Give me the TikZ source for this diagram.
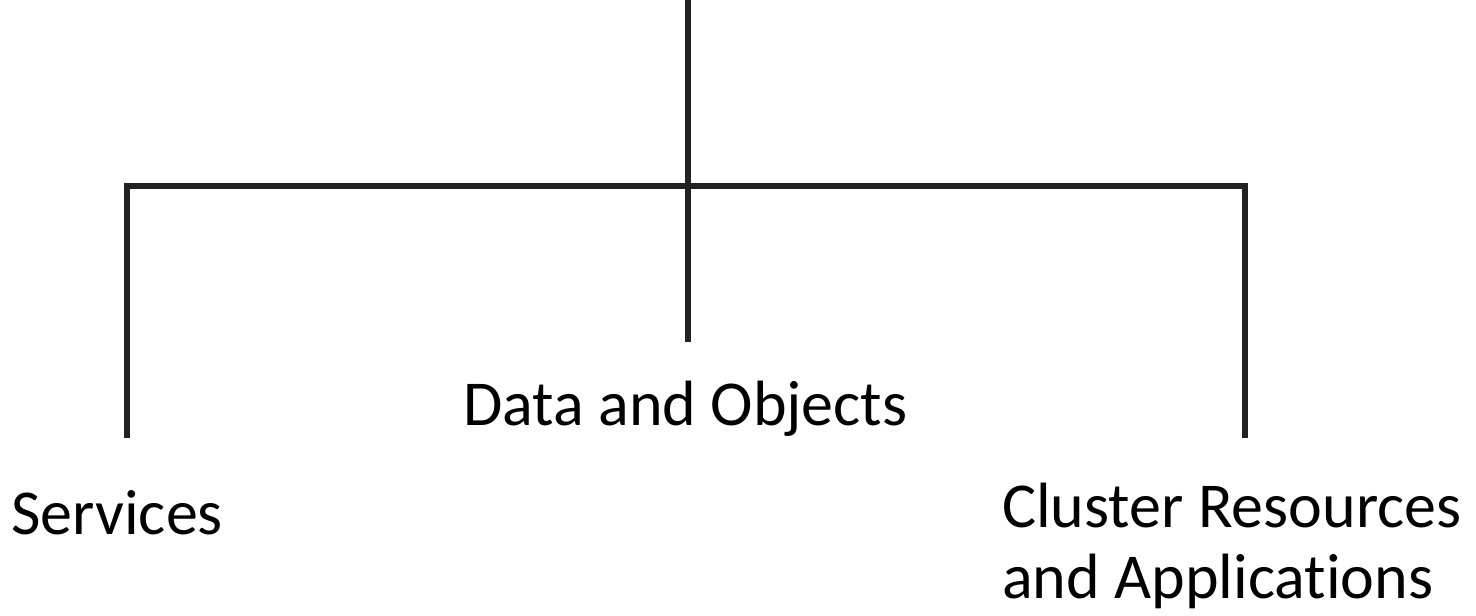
\documentclass[tikz,border=0pt]{standalone}
\usepackage{fontspec}
\setmainfont{Carlito}[Ligatures=NoCommon]
\definecolor{linec}{HTML}{222222}
\begin{document}
\begin{tikzpicture}[x=1pt,y=-1pt,
  conn/.style={draw=linec,line width=6pt},
  lbl/.style={inner sep=0pt,anchor=base west,font=\fontsize{64}{71}\selectfont,align=left}]
\useasboundingbox (0,0) rectangle (1476,616);
\coordinate (top) at (688,0);
\coordinate (mid) at (688,342);
\coordinate (hl) at (124,186);
\coordinate (hr) at (1248,186);
\coordinate (lt) at (127,183);
\coordinate (lb) at (127,438);
\coordinate (rt) at (1245,183);
\coordinate (rb) at (1245,438);
\draw[conn] (top) -- (mid);
\draw[conn] (hl) -- (hr);
\draw[conn] (lt) -- (lb);
\draw[conn] (rt) -- (rb);
\node[lbl] (data) at (463,425) {Data and Objects};
\node[lbl] (serv) at (11,534) {Services};
\node[lbl] (clus) at (1002,598) {Cluster Resources\\and Applications};
\end{tikzpicture}
\end{document}
